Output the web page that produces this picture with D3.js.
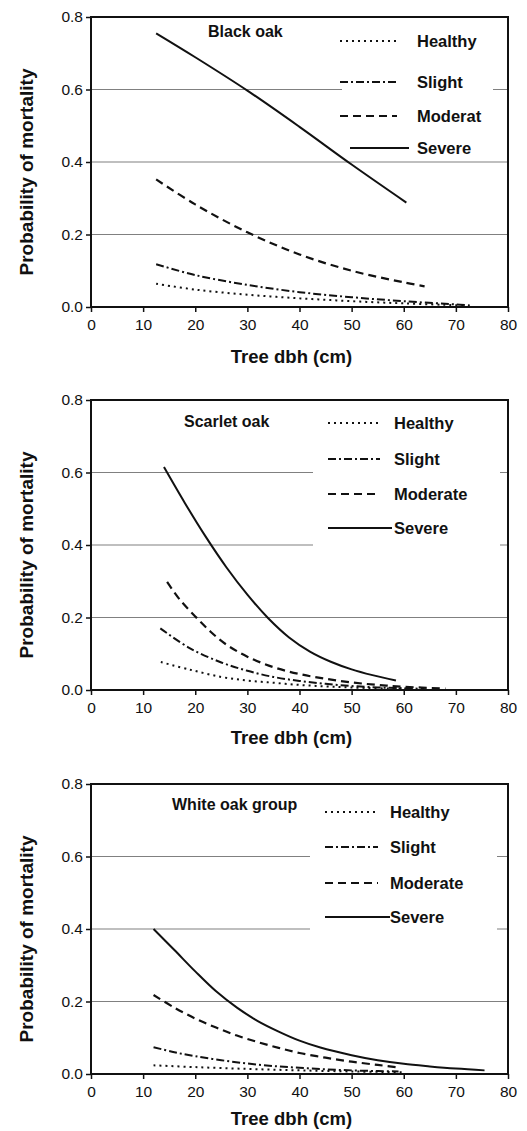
<!DOCTYPE html>
<html>
<head>
<meta charset="utf-8">
<script src="https://cdn.jsdelivr.net/npm/d3@7"></script>
<style>
  body { margin: 0; background: #fff; }
  svg text { font-family: "Liberation Sans", Arial, sans-serif; fill: #111; }
</style>
</head>
<body>
<div id="chart"></div>
<script>
// ejes
const xTicks = [0, 10, 20, 30, 40, 50, 60, 70, 80];
const yTicks = [0, 0.2, 0.4, 0.6, 0.8];
const conditions = ["Healthy", "Slight", "Moderate", "Severe"];

// Black oak [dbh, prob]
const blackHealthy = [[12.5, .064], [20, .048], [30, .034], [40, .024], [50, .016], [60, .010], [70, .005], [72, .004]];
const blackSlight = [[12.5, .118], [20, .088], [30, .061], [40, .041], [50, .027], [60, .016], [70, .007], [73, .004]];
const blackModerate = [[12.5, .352], [20, .283], [30, .206], [40, .145], [50, .100], [60, .068], [64, .057]];
const blackSevere = [[12.5, .755], [20, .689], [30, .597], [40, .497], [50, .393], [60.5, .288]];

// Scarlet oak
const scarletHealthy = [[13.4, .077], [19, .056], [25, .036], [30, .026], [35, .020], [40, .014], [45, .010], [50, .007], [60, .003], [62, .003]];
const scarletSlight = [[13.3, .170], [19, .115], [25, .076], [30, .053], [35, .036], [40, .025], [45, .017], [50, .011], [55, .007], [60, .005], [64, .003]];
const scarletModerate = [[14.6, .298], [17, .250], [20, .203], [23, .160], [26, .125], [30, .092], [35, .063], [40, .044], [45, .031], [50, .021], [55, .014], [60, .009], [68, .004]];
const scarletSevere = [[14, .615], [18, .516], [22, .423], [26, .338], [30, .263], [34, .198], [38, .145], [42, .106], [46, .078], [50, .057], [54, .041], [58.5, .026]];

// White oak group
const whiteHealthy = [[12, .024], [20, .019], [30, .014], [40, .010], [50, .007], [60, .005]];
const whiteSlight = [[12, .074], [16, .060], [20, .049], [25, .038], [30, .029], [35, .022], [40, .017], [45, .013], [50, .010], [55, .008], [59, .007]];
const whiteModerate = [[12, .218], [16, .183], [20, .153], [24, .128], [28, .106], [32, .088], [36, .072], [40, .058], [45, .045], [50, .034], [55, .025], [58.5, .019]];
const whiteSevere = [[12, .400], [16, .342], [20, .283], [24, .228], [28, .183], [32, .146], [36, .117], [40, .092], [44, .073], [50, .052], [55, .038], [60, .028], [65, .021], [70, .015], [75.5, .010]];

const panels = [
    { title: "Black oak", labels: ["Healthy", "Slight", "Moderat", "Severe"],
      series: [blackHealthy, blackSlight, blackModerate, blackSevere],
      top: 17, titleX: 208, titleY: 20, xTitle: 56,
      legX: 340, legX2: 397, legTextX: 417, rows: [24, 65, 99, 131], box: [342, 493, 138] },
    { title: "Scarlet oak", labels: conditions,
      series: [scarletHealthy, scarletSlight, scarletModerate, scarletSevere],
      top: 400, titleX: 184, titleY: 27, xTitle: 54,
      legX: 328, legX2: 380, legTextX: 394, rows: [23, 59, 94, 128], box: [313, 500, 150] },
    { title: "White oak group", labels: conditions,
      series: [whiteHealthy, whiteSlight, whiteModerate, whiteSevere],
      top: 784, titleX: 172, titleY: 26, xTitle: 51,
      legX: 325, legX2: 378, legTextX: 390, rows: [28, 63, 99, 133], box: [310, 497, 149] }
];

const dashes = ["2,4", "8,3,2,3", "8,5", null];
const widths = [2, 2, 2.2, 2];

const width = 527;
const height = 1131;
const left = 91, right = 508, plotH = 290;

let svg = d3.select("#chart").append("svg")
    .attr("width", width)
    .attr("height", height);

const x = d3.scaleLinear().domain([0, 80]).range([left, right]);

panels.forEach(function(p) {
    let y = d3.scaleLinear().domain([0, 0.8]).range([p.top + plotH, p.top]);
    let g = svg.append("g");

    // rejilla
    g.selectAll(".grid")
        .data([0.2, 0.4, 0.6])
        .enter()
        .append("line")
        .attr("x1", left).attr("x2", right)
        .attr("y1", d => y(d)).attr("y2", d => y(d))
        .style("stroke", "#808080")
        .style("stroke-width", 1.2);

    // fondo de la leyenda
    g.append("rect")
        .attr("x", p.box[0])
        .attr("y", p.top + 2)
        .attr("width", p.box[1] - p.box[0])
        .attr("height", p.box[2])
        .style("fill", "#fff");

    // curvas
    const line = d3.line()
        .x(d => x(d[0]))
        .y(d => y(d[1]))
        .curve(d3.curveCatmullRom.alpha(0.5));

    p.series.forEach(function(s, i) {
        g.append("path")
            .datum(s)
            .attr("d", line)
            .style("fill", "none")
            .style("stroke", "#111")
            .style("stroke-width", widths[i])
            .style("stroke-dasharray", dashes[i]);
    });

    // marco
    g.append("rect")
        .attr("x", left).attr("y", p.top)
        .attr("width", right - left).attr("height", plotH)
        .style("fill", "none")
        .style("stroke", "#111")
        .style("stroke-width", 2);

    // ejes
    let yAxis = d3.axisLeft(y).tickValues(yTicks).tickFormat(d3.format(".1f")).tickSize(5).tickPadding(3);
    let xAxis = d3.axisBottom(x).tickValues(xTicks).tickSize(5).tickPadding(7);

    let ya = g.append("g").attr("transform", "translate(" + left + ",0)").call(yAxis);
    let xa = g.append("g").attr("transform", "translate(0," + (p.top + plotH) + ")").call(xAxis);
    [ya, xa].forEach(function(a) {
        a.select(".domain").remove();
        a.selectAll("line").style("stroke", "#111").style("stroke-width", 1.5);
        a.selectAll("text").style("font-size", "15.5px").style("fill", "#111");
    });

    // titulos
    g.append("text")
        .attr("x", (left + right) / 2 - 8)
        .attr("y", p.top + plotH + p.xTitle)
        .attr("text-anchor", "middle")
        .style("font-size", "18.5px")
        .style("font-weight", "bold")
        .text("Tree dbh (cm)");

    g.append("text")
        .attr("transform", "translate(33," + (p.top + plotH / 2 + 10) + ") rotate(-90)")
        .attr("text-anchor", "middle")
        .style("font-size", "19px")
        .style("font-weight", "bold")
        .text("Probability of mortality");

    g.append("text")
        .attr("x", p.titleX)
        .attr("y", p.top + p.titleY)
        .style("font-size", "16px")
        .style("font-weight", "bold")
        .text(p.title);

    // leyenda
    p.labels.forEach(function(lab, i) {
        let ly = p.top + p.rows[i];
        g.append("line")
            .attr("x1", i == 3 && p.title == "Black oak" ? p.legX + 10 : p.legX)
            .attr("x2", i == 3 ? p.legX2 + 12 : p.legX2)
            .attr("y1", ly).attr("y2", ly)
            .style("stroke", "#111")
            .style("stroke-width", 2)
            .style("stroke-dasharray", dashes[i]);
        g.append("text")
            .attr("x", p.legTextX)
            .attr("y", ly + 6)
            .style("font-size", "16.5px")
            .style("font-weight", "bold")
            .text(lab);
    });
});
</script>
</body>
</html>
